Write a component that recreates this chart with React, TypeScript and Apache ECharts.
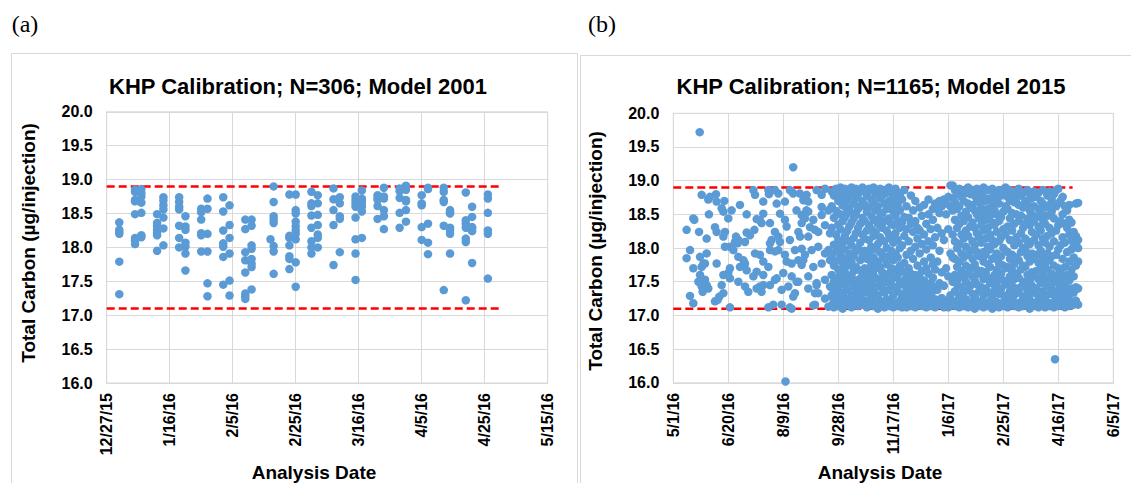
import React, { useEffect, useRef } from "react";
import * as echarts from "echarts";

// ---------- Panel (a): Model 2001, days since 12/27/15 ----------
const startA = Date.UTC(2015, 11, 27);
const aDays = [4, 9, 11, 16, 18, 23, 25, 30, 32, 37, 39, 44, 46, 52, 53, 58, 60, 65, 67, 72, 74, 79, 81, 86, 88, 93, 95, 100, 102, 107, 109, 114, 116, 121];
const aValues: number[][] = [
  [18.37, 18.26, 18.23, 18.2, 17.79, 17.31],
  [18.85, 18.82, 18.7, 18.68, 18.49, 18.14, 18.1, 18.05],
  [18.86, 18.8, 18.75, 18.66, 18.51, 18.18, 18.15],
  [18.49, 18.36, 18.31, 18.26, 18.22, 18.18, 17.95],
  [18.74, 18.69, 18.62, 18.56, 18.44, 18.28, 18.03],
  [18.74, 18.67, 18.6, 18.56, 18.32, 18.14, 18.0],
  [18.46, 18.31, 18.26, 18.07, 18.01, 17.91, 17.66],
  [18.57, 18.52, 18.41, 18.21, 18.18, 17.94],
  [18.72, 18.57, 18.2, 17.94, 17.47, 17.28],
  [18.74, 18.53, 18.25, 18.06, 18.01, 17.86, 17.45],
  [18.62, 18.33, 18.14, 17.91, 17.51, 17.29],
  [18.41, 18.27, 17.93, 17.81, 17.63, 17.32, 17.28, 17.24],
  [18.41, 18.32, 18.03, 17.98, 17.83, 17.76, 17.71, 17.38],
  [18.12],
  [18.9, 18.67, 18.46, 18.41, 18.36, 18.02, 17.94, 17.61],
  [18.78, 18.17, 18.14, 18.03, 17.87, 17.83, 17.68],
  [18.78, 18.55, 18.5, 18.38, 18.31, 18.25, 18.2, 18.12, 17.78, 17.42],
  [18.82, 18.65, 18.61, 18.47, 18.29, 18.09, 18.0, 17.91],
  [18.77, 18.65, 18.48, 18.33, 18.19, 18.14, 18.0],
  [18.87, 18.71, 18.55, 18.33, 17.74],
  [18.74, 18.65, 18.46, 18.42, 17.93],
  [18.75, 18.7, 18.65, 18.6, 18.44, 18.12, 17.91, 17.52],
  [18.84, 18.72, 18.7, 18.66, 18.6, 18.53, 18.14],
  [18.77, 18.73, 18.7, 18.61, 18.42],
  [18.88, 18.75, 18.72, 18.55, 18.46, 18.27],
  [18.87, 18.83, 18.73, 18.51, 18.29],
  [18.91, 18.85, 18.7, 18.68, 18.55, 18.38],
  [18.77, 18.65, 18.62, 18.3, 18.11],
  [18.88, 18.86, 18.35, 18.07, 17.9],
  [18.88, 18.82, 18.7, 18.67, 18.32, 17.37],
  [18.55, 18.52, 18.5, 18.29, 18.25, 18.2, 17.91],
  [18.81, 18.4, 18.35, 18.29, 18.13, 18.08, 17.22],
  [18.6, 18.45, 18.3, 18.28, 18.24, 17.77],
  [18.78, 18.72, 18.51, 18.25, 18.2, 17.54],
];
const aLimits = [17.1, 18.9];
const aLimitEndDay = 125;

// ---------- Panel (b): Model 2015, days since 5/1/16 ----------
const startB = Date.UTC(2016, 4, 1);
const bSparse: [number, number][] = [
  [24, 19.72], [109, 19.2], [102, 16.02], [347, 16.35],
  [25.8, 18.79], [31.8, 18.72], [38.8, 18.8], [39.4, 18.69], [46.4, 18.7], [44, 18.59], [45.5, 18.54], [53, 18.56], [60.6, 18.64], [72.8, 18.86], [74.3, 18.79], [87, 18.8], [81.8, 18.69], [92.4, 18.86],
  [18.2, 18.44], [19.1, 18.42], [32.4, 18.5], [12.1, 18.27], [23.4, 18.24], [30.3, 18.14], [37.9, 18.31], [39.4, 18.24], [47, 18.24], [50, 18.44], [66.7, 18.5], [75.8, 18.43], [81.8, 18.51], [80.3, 18.37], [73.7, 18.27], [66.7, 18.23], [69.7, 18.19], [87.9, 18.37], [92.4, 18.24], [89.4, 18.12],
  [15.2, 17.97], [12.1, 17.85], [18.2, 17.7], [24.3, 17.87], [30.3, 17.92], [25.8, 17.72], [27.3, 17.77], [39.4, 17.77], [47, 18.02], [51.5, 18.02], [56.1, 18.09], [59.1, 18.12], [65.2, 18.09], [54.6, 17.97], [59.1, 17.87], [63.7, 17.82], [65.2, 17.77], [74.3, 17.92], [78.8, 17.9], [81.8, 17.8], [87.9, 17.97], [92.4, 17.95], [86.4, 17.72], [51.5, 17.7], [50, 17.63], [45.5, 17.6],
  [24.3, 17.6], [22.8, 17.5], [28.8, 17.53], [30.3, 17.45], [31.8, 17.4], [25.8, 17.43], [44, 17.45], [45.5, 17.33], [51.5, 17.55], [59.1, 17.5], [65.2, 17.43], [68.2, 17.35], [72.8, 17.58], [75.8, 17.4], [81.8, 17.6], [78.8, 17.43], [87.9, 17.45], [92.4, 17.53],
  [15.2, 17.29], [18.2, 17.18], [37.9, 17.21], [40.3, 17.23], [51.5, 17.12], [86.4, 17.12], [90.9, 17.16],
  [26.7, 17.35], [28.8, 17.77], [33.3, 18.76], [41.8, 17.28], [45.5, 18.17], [57, 18.17], [58.5, 18.07], [60.6, 17.72], [66.7, 17.67], [75.8, 17.65], [78.8, 18.41], [86.4, 18.86], [81.8, 17.45], [80.3, 17.35], [87.9, 18.07],
  [95.5, 18.81], [94, 18.66], [97, 18.51], [101.5, 18.69], [107.6, 18.84], [115, 18.81], [121.2, 18.79], [122.7, 18.69], [130.3, 18.86], [134.9, 18.79], [138, 18.88], [134.9, 18.61], [122.7, 18.54], [116.7, 18.49], [116.7, 18.37], [127.3, 18.42], [134.9, 18.49], [141, 18.56], [101.5, 18.42], [103, 18.32], [95.5, 18.17], [97, 18.09], [106, 18.12], [113.7, 18.24], [115.2, 18.17], [122.7, 18.17], [128.8, 18.27], [131.8, 18.24], [137.9, 18.34], [142.5, 18.22],
  [95.5, 17.97], [101.5, 17.9], [110.6, 17.97], [116.7, 17.99], [119.7, 17.9], [125.8, 17.97], [131.8, 18.02], [137.9, 17.92], [141, 17.97], [103, 17.8], [113.7, 17.82], [116.7, 17.75], [127.3, 17.72], [134.9, 17.77], [142.5, 17.82],
  [94, 17.55], [100, 17.63], [107.6, 17.58], [112.1, 17.5], [122.7, 17.58], [130.3, 17.48], [137.9, 17.53], [142.5, 17.43], [98.5, 17.38], [104.6, 17.43], [110.6, 17.33], [122.7, 17.4], [131.8, 17.33], [137.9, 17.25], [144, 17.3], [98.5, 17.16], [106, 17.12], [128.8, 17.16], [141, 17.13], [145.5, 17.18],
  [106, 18.86], [109, 18.81], [112, 18.56], [118.2, 18.71], [119.7, 18.44], [121, 18.56], [124.3, 18.31], [127.3, 17.15], [130.3, 17.45], [128.8, 17.33], [109, 17.28], [107.6, 17.1], [107.6, 17.77], [113.6, 17.5], [118.2, 17.82],
];
const bDense: [number, number[]][] = [
  [144, [17.15, 17.28, 17.42, 17.6, 17.88, 18.3, 18.62, 18.84]],
  [146, [17.12, 17.22, 17.36, 17.5, 17.74, 18.05, 18.45, 18.78]],
  [148, [17.18, 17.3, 17.55, 17.95, 18.2, 18.55, 18.88]],
  [150, [17.14, 17.25, 17.4, 17.68, 17.82, 18.12, 18.35, 18.7, 18.86]],
  [152, [17.2, 17.48, 17.62, 17.9, 18.0, 18.28, 18.5, 18.76, 18.9]],
  [154, [17.1, 17.33, 17.55, 17.78, 18.08, 18.4, 18.63, 18.82]],
  [156, [17.26, 17.45, 17.7, 17.98, 18.18, 18.46, 18.68, 18.88]],
  [158, [17.16, 17.38, 17.6, 17.85, 18.25, 18.55, 18.8, 18.72]],
  [160, [17.22, 17.5, 17.75, 17.92, 18.1, 18.32, 18.6, 18.85]],
  [162, [17.12, 17.3, 17.58, 17.8, 18.04, 18.38, 18.52, 18.78, 18.9]],
  [164, [17.24, 17.42, 17.66, 17.88, 18.15, 18.44, 18.66, 18.82]],
  [166, [17.18, 17.35, 17.52, 17.72, 17.96, 18.22, 18.5, 18.74, 18.88]],
  [168, [17.14, 17.46, 17.68, 18.0, 18.3, 18.58, 18.8]],
  [170, [17.2, 17.28, 17.55, 17.82, 18.08, 18.36, 18.62, 18.86]],
  [172, [17.16, 17.38, 17.62, 17.9, 18.2, 18.45, 18.7, 18.9]],
  [174, [17.22, 17.48, 17.7, 17.96, 18.14, 18.4, 18.64, 18.84]],
  [176, [17.12, 17.34, 17.58, 17.84, 18.26, 18.54, 18.78]],
  [178, [17.2, 17.44, 17.66, 17.92, 18.12, 18.34, 18.6, 18.88]],
  [180, [17.26, 17.5, 17.76, 18.02, 18.28, 18.48, 18.72, 18.86]],
  [182, [17.14, 17.36, 17.6, 17.86, 18.18, 18.42, 18.68, 18.9]],
  [184, [17.18, 17.42, 17.7, 17.98, 18.24, 18.56, 18.8]],
  [186, [17.1, 17.3, 17.54, 17.8, 18.06, 18.36, 18.62, 18.84]],
  [188, [17.22, 17.48, 17.72, 17.94, 18.16, 18.46, 18.74, 18.88]],
  [190, [17.16, 17.4, 17.64, 17.9, 18.3, 18.52, 18.78]],
  [192, [17.12, 17.34, 17.58, 17.84, 18.1, 18.4, 18.66, 18.86]],
  [194, [17.24, 17.5, 17.76, 18.0, 18.26, 18.58, 18.82]],
  [196, [17.14, 17.38, 17.62, 17.88, 18.2, 18.44, 18.7, 18.9]],
  [198, [17.2, 17.46, 17.7, 17.96, 18.14, 18.36, 18.6, 18.84]],
  [200, [17.12, 17.3, 17.56, 17.82, 18.08, 18.34, 18.54, 18.76]],
  [202, [17.18, 17.42, 17.68, 17.92, 18.22, 18.48, 18.7, 18.88]],
  [204, [17.14, 17.36, 17.6, 17.86, 18.12, 18.4, 18.64, 18.82]],
  [206, [17.22, 17.5, 17.74, 18.0, 18.3, 18.56, 18.8]],
  [208, [17.12, 17.28, 17.46, 17.66, 18.04, 18.38, 18.72]],
  [210, [17.16, 17.32, 17.52, 17.78, 18.18, 18.46, 18.86]],
  [212, [17.12, 17.24, 17.4, 17.58, 17.9, 18.28, 18.62]],
  [214, [17.18, 17.3, 17.48, 17.7, 18.1, 18.45]],
  [216, [17.14, 17.26, 17.44, 17.62, 17.96, 18.36, 18.78]],
  [218, [17.2, 17.36, 17.54, 17.84, 18.24, 18.56]],
  [220, [17.12, 17.28, 17.42, 17.6, 18.02, 18.4, 18.7]],
  [222, [17.16, 17.32, 17.5, 17.74, 18.14, 18.3]],
  [224, [17.22, 17.38, 17.56, 17.92, 18.26, 18.6]],
  [226, [17.14, 17.26, 17.44, 17.66, 18.06, 18.48]],
  [228, [17.18, 17.34, 17.52, 17.8, 18.2, 18.64]],
  [230, [17.12, 17.3, 17.46, 17.7, 17.98, 18.36]],
  [232, [17.2, 17.4, 17.62, 18.1, 18.5, 18.72]],
  [234, [17.14, 17.28, 17.48, 17.86, 18.28]],
  [236, [17.18, 17.36, 17.56, 17.76, 18.04, 18.42, 18.58]],
  [238, [17.12, 17.24, 17.42, 17.68, 18.16, 18.66]],
  [240, [17.2, 17.38, 17.8, 18.3, 18.6]],
  [242, [17.16, 17.48, 17.96, 18.52, 18.7]],
  [244, [17.26, 17.64, 18.22, 18.62]],
  [246, [17.12, 17.44, 18.12, 18.72]],
  [248, [17.22, 17.7, 18.5, 18.66]],
  [250, [17.12, 17.58, 18.28, 18.76]],
  [252, [17.3, 17.92, 18.62, 18.93]],
  [254, [17.2, 17.5, 17.86, 18.2, 18.56, 18.74, 18.93]],
  [256, [17.14, 17.36, 17.6, 17.84, 18.1, 18.42, 18.68, 18.86]],
  [258, [17.22, 17.46, 17.72, 18.0, 18.3, 18.58, 18.8]],
  [260, [17.12, 17.3, 17.56, 17.8, 18.06, 18.36, 18.62, 18.88]],
  [262, [17.18, 17.42, 17.66, 17.92, 18.2, 18.48, 18.76]],
  [264, [17.14, 17.34, 17.6, 17.86, 18.14, 18.4, 18.7, 18.84]],
  [266, [17.24, 17.5, 17.74, 18.02, 18.26, 18.54, 18.82]],
  [268, [17.12, 17.38, 17.62, 17.9, 18.18, 18.46, 18.66, 18.9]],
  [270, [17.2, 17.44, 17.7, 17.96, 18.32, 18.6, 18.8]],
  [272, [17.16, 17.32, 17.58, 17.84, 18.1, 18.38, 18.64, 18.86]],
  [274, [17.1, 17.28, 17.52, 17.76, 18.04, 18.3, 18.56, 18.78]],
  [276, [17.22, 17.46, 17.68, 17.94, 18.22, 18.5, 18.72, 18.88]],
  [278, [17.14, 17.36, 17.62, 17.88, 18.16, 18.44, 18.68, 18.84]],
  [280, [17.2, 17.42, 17.66, 18.08, 18.34, 18.6, 18.82]],
  [282, [17.12, 17.3, 17.54, 17.8, 17.94, 18.26, 18.52, 18.76, 18.9]],
  [284, [17.18, 17.4, 17.64, 17.9, 18.14, 18.42, 18.7]],
  [286, [17.14, 17.34, 17.56, 17.76, 18.02, 18.3, 18.58, 18.86]],
  [288, [17.22, 17.48, 17.72, 17.98, 18.2, 18.48, 18.74]],
  [290, [17.1, 17.28, 17.5, 17.84, 18.12, 18.38, 18.64, 18.88]],
  [292, [17.16, 17.38, 17.6, 17.86, 18.06, 18.34, 18.56, 18.8]],
  [294, [17.2, 17.44, 17.68, 17.92, 18.24, 18.5, 18.72]],
  [296, [17.12, 17.32, 17.54, 17.78, 18.1, 18.4, 18.66, 18.86]],
  [298, [17.18, 17.4, 17.62, 17.88, 18.16, 18.46, 18.78]],
  [300, [17.14, 17.3, 17.52, 17.74, 18.0, 18.28, 18.54, 18.82]],
  [302, [17.2, 17.46, 17.7, 17.96, 18.2, 18.62, 18.9]],
  [304, [17.12, 17.26, 17.48, 17.72, 17.94, 18.32, 18.58, 18.76]],
  [306, [17.16, 17.36, 17.58, 17.84, 18.12, 18.44, 18.7, 18.86]],
  [308, [17.22, 17.44, 17.66, 17.9, 18.26, 18.52, 18.8]],
  [310, [17.14, 17.3, 17.54, 17.76, 18.04, 18.36, 18.68, 18.84]],
  [312, [17.18, 17.4, 17.62, 17.86, 18.16, 18.5, 18.74]],
  [314, [17.12, 17.34, 17.56, 17.82, 18.08, 18.4, 18.64, 18.88]],
  [316, [17.2, 17.42, 17.68, 17.94, 18.22, 18.48, 18.78]],
  [318, [17.14, 17.28, 17.5, 17.74, 18.0, 18.3, 18.6, 18.82]],
  [320, [17.22, 17.46, 17.72, 17.98, 18.14, 18.36, 18.7]],
  [322, [17.16, 17.36, 17.6, 17.88, 18.1, 18.44, 18.66, 18.86]],
  [324, [17.1, 17.3, 17.52, 17.8, 18.06, 18.34, 18.56, 18.8]],
  [326, [17.2, 17.44, 17.64, 17.92, 18.24, 18.5, 18.74]],
  [328, [17.14, 17.34, 17.58, 17.84, 18.12, 18.4, 18.62, 18.84]],
  [330, [17.18, 17.4, 17.66, 17.9, 18.2, 18.46, 18.76]],
  [332, [17.12, 17.28, 17.54, 17.78, 18.04, 18.32, 18.58, 18.82]],
  [334, [17.22, 17.48, 17.7, 17.96, 18.26, 18.52, 18.7]],
  [336, [17.16, 17.36, 17.6, 17.86, 18.14, 18.42, 18.66, 18.86]],
  [338, [17.12, 17.3, 17.52, 17.76, 18.08, 18.36, 18.6]],
  [340, [17.2, 17.44, 17.68, 17.92, 18.18, 18.48, 18.78]],
  [342, [17.14, 17.32, 17.56, 17.82, 18.02, 18.3, 18.64, 18.84]],
  [344, [17.18, 17.4, 17.62, 17.88, 18.22, 18.54, 18.72]],
  [346, [17.12, 17.3, 17.5, 17.74, 18.1, 18.44, 18.8]],
  [348, [17.2, 17.36, 17.58, 17.9, 18.26, 18.62, 18.86]],
  [350, [17.14, 17.28, 17.48, 17.7, 17.98, 18.34, 18.66, 18.88]],
  [352, [17.22, 17.42, 17.64, 18.04, 18.4, 18.7]],
  [354, [17.16, 17.34, 17.56, 17.84, 18.16, 18.5, 18.76]],
  [356, [17.12, 17.26, 17.46, 17.72, 18.08, 18.36, 18.62]],
  [358, [17.18, 17.38, 17.6, 17.94, 18.3, 18.56]],
  [360, [17.14, 17.3, 17.52, 17.8, 18.2, 18.42, 18.64]],
  [362, [17.2, 17.4, 17.68, 17.98, 18.12, 18.38]],
  [364, [17.16, 17.34, 17.58, 17.86, 18.06, 18.24]],
  [366, [17.22, 17.42, 17.74, 18.02, 18.18, 18.66]],
  [368, [17.16, 17.4, 17.8, 18.0, 18.12, 18.67]],
];
const bLimits = [17.1, 18.9];
const bLimitEndDay = 363;

const FONT = '"Liberation Sans", Arial, sans-serif';
const DOT = "#5b9bd5";
const GRIDC = "#d9d9d9";

function fmtDate(start: number, d: number) {
  const dt = new Date(start + Math.round(d) * 86400000);
  return `${dt.getUTCMonth() + 1}/${dt.getUTCDate()}/${String(dt.getUTCFullYear()).slice(2)}`;
}

function xAxisFor(grid: number, max: number, interval: number, start: number) {
  return {
    type: "value", gridIndex: grid, min: 0, max, interval,
    axisLine: { show: true, lineStyle: { color: GRIDC } },
    axisTick: { show: false },
    splitLine: { show: true, lineStyle: { color: GRIDC, width: 1 } },
    axisLabel: {
      rotate: 90, margin: 10, fontSize: 16, fontWeight: "bold", fontFamily: FONT, color: "#000",
      showMinLabel: true, showMaxLabel: true,
      formatter: (v: number) => fmtDate(start, v),
    },
  };
}
function yAxisFor(grid: number) {
  return {
    type: "value", gridIndex: grid, min: 16, max: 20, interval: 0.5,
    axisLine: { show: true, lineStyle: { color: GRIDC } },
    axisTick: { show: false },
    splitLine: { show: true, lineStyle: { color: GRIDC, width: 1 } },
    axisLabel: {
      margin: 14, fontSize: 16, fontWeight: "bold", fontFamily: FONT, color: "#000",
      showMinLabel: true, showMaxLabel: true,
      formatter: (v: number) => v.toFixed(1),
    },
  };
}
function limitSeries(idx: number, val: number, end: number) {
  return {
    type: "line", xAxisIndex: idx, yAxisIndex: idx, symbol: "none", silent: true, z: 1,
    data: [[0, val], [end, val]],
    lineStyle: { color: "#ff0000", width: 2.5, type: [8, 4] },
  };
}
function txt(text: string, x: number, y: number, size: number, opts: any = {}) {
  return {
    type: "text", x, y, rotation: opts.rotation || 0, silent: true,
    style: {
      text, x: 0, y: 0, fill: "#000",
      font: `${opts.weight || "bold"} ${size}px ${opts.family || FONT}`,
      textAlign: "center", textVerticalAlign: "middle",
    },
  };
}

export default function App() {
  const ref = useRef<HTMLDivElement>(null);
  useEffect(() => {
    if (!ref.current) return;
    const chart = echarts.init(ref.current, null, { renderer: "svg" });
    const aData: number[][] = [];
    aDays.forEach((d, i) => aValues[i].forEach((v) => aData.push([d, v])));
    const bData: number[][] = bSparse.map((p) => [p[0], p[1]]);
    bDense.forEach(([d, vals]) => vals.forEach((v) => bData.push([d, v])));

    chart.setOption({
      animation: false,
      backgroundColor: "#fff",
      grid: [
        { left: 106.7, top: 111.8, width: 441, height: 271.2, show: true, borderColor: GRIDC, borderWidth: 1 },
        { left: 673.3, top: 113.3, width: 440, height: 269.5, show: true, borderColor: GRIDC, borderWidth: 1 },
      ],
      xAxis: [xAxisFor(0, 140, 20, startA), xAxisFor(1, 400, 50, startB)],
      yAxis: [yAxisFor(0), yAxisFor(1)],
      series: [
        ...aLimits.map((v) => limitSeries(0, v, aLimitEndDay)),
        ...bLimits.map((v) => limitSeries(1, v, bLimitEndDay)),
        { type: "scatter", xAxisIndex: 0, yAxisIndex: 0, data: aData, symbolSize: 8.5, z: 3, itemStyle: { color: DOT, opacity: 1 } },
        { type: "scatter", xAxisIndex: 1, yAxisIndex: 1, data: bData, symbolSize: 8.5, z: 3, itemStyle: { color: DOT, opacity: 1 } },
      ],
      graphic: [
        { type: "rect", silent: true, shape: { x: 11.5, y: 53.5, width: 566, height: 460 }, style: { fill: "none", stroke: GRIDC, lineWidth: 1 } },
        { type: "rect", silent: true, shape: { x: 580.5, y: 55.5, width: 600, height: 460 }, style: { fill: "none", stroke: GRIDC, lineWidth: 1 } },
        txt("(a)", 25, 24, 24, { weight: "normal", family: '"Liberation Serif", "Times New Roman", serif' }),
        txt("(b)", 602, 24, 24, { weight: "normal", family: '"Liberation Serif", "Times New Roman", serif' }),
        txt("KHP Calibration; N=306; Model 2001", 298, 86, 22),
        txt("KHP Calibration; N=1165; Model 2015", 871, 86, 22),
        txt("Total Carbon (µg/injection)", 28, 243, 19, { rotation: Math.PI / 2 }),
        txt("Total Carbon (µg/injection)", 595, 251, 19, { rotation: Math.PI / 2 }),
        txt("Analysis Date", 314, 472, 19),
        txt("Analysis Date", 880, 472, 19),
      ],
    });
    return () => chart.dispose();
  }, []);
  return (
    <div
      ref={ref}
      style={{ position: "fixed", left: 0, top: 0, width: 1131, height: 483, background: "#fff" }}
    />
  );
}
